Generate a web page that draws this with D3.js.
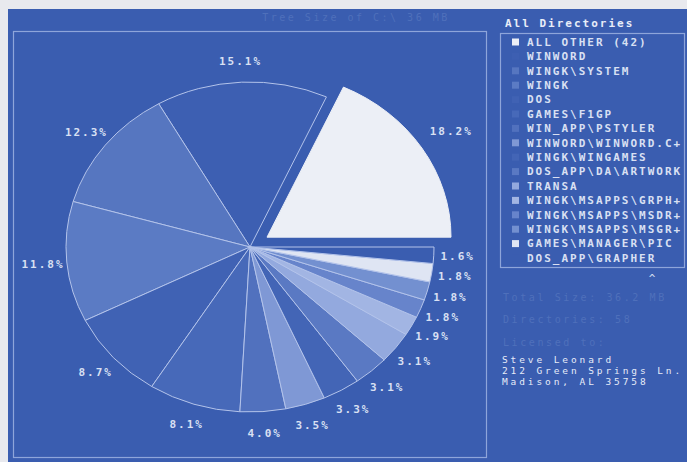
<!DOCTYPE html>
<html><head><meta charset="utf-8">
<script src="https://cdn.jsdelivr.net/npm/d3@7"></script>
<style>html,body{margin:0;padding:0;background:#e8e9ee;overflow:hidden}</style>
</head><body><svg id="c" width="687" height="462"></svg>
<script>
const categories = ["ALL OTHER (42)","WINWORD","WINGK\\SYSTEM","WINGK","DOS","GAMES\\F1GP","WIN_APP\\PSTYLER","WINWORD\\WINWORD.C+","WINGK\\WINGAMES","DOS_APP\\DA\\ARTWORK","TRANSA","WINGK\\MSAPPS\\GRPH+","WINGK\\MSAPPS\\MSDR+","WINGK\\MSAPPS\\MSGR+","GAMES\\MANAGER\\PIC","DOS_APP\\GRAPHER"];
const values = [18.2,15.1,12.3,11.8,8.7,8.1,4.0,3.5,3.3,3.1,3.1,1.9,1.8,1.8,1.8,1.6];
const sliceColors = ["#eceff6","#3d5fb2","#5676c0","#5b7bc4","#4062b4","#4769b9","#5171be","#7f98d5","#4365b6","#5a79c3","#93a9de","#a2b5e3","#6784cb","#7390d0","#dfe5f3","#3a5db0"];
const explodedSlice = [true,false,false,false,false,false,false,false,false,false,false,false,false,false,false,false];
const chartTitle = "Tree Size of C:\\ 36 MB";
const legendTitle = "All Directories";
const infoLines = ["Total Size: 36.2 MB","Directories: 58","Licensed to:"];
const addressLines = ["Steve Leonard","212 Green Springs Ln.","Madison, AL 35758"];

const W = 687, H = 462;
const svg = d3.select("#c");
const BG = "#3a5db0", LINE = "#8ea5da", TXT = "#d9e0f3", FAINT = "#4f70bb";
const mono = "'DejaVu Sans Mono', 'Liberation Mono', monospace";

// screen + page
svg.append("rect").attr("x",0).attr("y",0).attr("width",W).attr("height",H).attr("fill","#e8e9ee");
svg.append("rect").attr("x",8).attr("y",9).attr("width",W-8).attr("height",H-9).attr("fill",BG);

// chart panel
svg.append("rect").attr("x",13.5).attr("y",31.5).attr("width",473).attr("height",426)
  .attr("fill","none").attr("stroke",LINE).attr("stroke-width",1.2);
svg.append("text").attr("x",356).attr("y",17).attr("dy","0.35em").attr("text-anchor","middle")
  .attr("font-family",mono).attr("font-size",10).attr("letter-spacing",2.5)
  .attr("fill",FAINT).text(chartTitle);

// pie (elliptical, as on the EGA screen)
const cx = 250, cy = 247, rx = 184, ry = 165;
const pie = d3.pie().value(d => d).sort(null).startAngle(Math.PI/2).endAngle(Math.PI/2 - 2*Math.PI);
const arcs = pie(values);
const arc = d3.arc().innerRadius(0).outerRadius(ry);
const explode = 0.11, labelK = 1.13, explodedLabelK = 1.19;
const pieG = svg.append("g").attr("transform",`translate(${cx},${cy})`);
arcs.forEach((a,i) => {
  const mid = (a.startAngle + a.endAngle)/2;
  const off = explodedSlice[i] ? explode : 0;
  const dx = rx*off*Math.sin(mid), dy = -ry*off*Math.cos(mid);
  pieG.append("g").attr("transform",`translate(${dx},${dy}) scale(${rx/ry},1)`)
    .append("path").attr("d",arc(a)).attr("fill",sliceColors[i])
    .attr("stroke", explodedSlice[i] ? sliceColors[i] : "#b3c3ea").attr("stroke-width",1)
    .attr("vector-effect","non-scaling-stroke").attr("stroke-linejoin","round");
  const k = off + (explodedSlice[i] ? explodedLabelK : labelK);
  pieG.append("text")
    .attr("x", rx*k*Math.sin(mid)).attr("y", -ry*k*Math.cos(mid))
    .attr("dy","0.35em").attr("text-anchor","middle")
    .attr("font-family",mono).attr("font-weight","bold").attr("font-size",11).attr("letter-spacing",2)
    .attr("fill",TXT).text(values[i].toFixed(1) + "%");
});

// legend
svg.append("text").attr("x",505).attr("y",23).attr("dy","0.35em")
  .attr("font-family",mono).attr("font-weight","bold").attr("font-size",11).attr("letter-spacing",2)
  .attr("fill","#e8edf8").text(legendTitle);
svg.append("rect").attr("x",500.5).attr("y",33.5).attr("width",184).attr("height",234)
  .attr("fill","none").attr("stroke",LINE).attr("stroke-width",1.2);
const rowY = d3.scaleLinear().domain([0, categories.length-1]).range([42, 258]);
categories.forEach((c,i) => {
  svg.append("rect").attr("x",512).attr("y",rowY(i)-3.5).attr("width",7).attr("height",7).attr("fill",sliceColors[i]);
  svg.append("text").attr("x",527).attr("y",rowY(i)).attr("dy","0.35em")
    .attr("font-family",mono).attr("font-weight","bold").attr("font-size",11).attr("letter-spacing",2)
    .attr("fill",TXT).text(c);
});
svg.append("text").attr("x",652).attr("y",282).attr("text-anchor","middle")
  .attr("font-family",mono).attr("font-size",11).attr("fill",TXT).text("^");

// info & registration
infoLines.forEach((t,i) => {
  svg.append("text").attr("x",503).attr("y",297 + i*22.5).attr("dy","0.35em")
    .attr("font-family",mono).attr("font-size",10).attr("letter-spacing",2.6)
    .attr("fill",FAINT).text(t);
});
addressLines.forEach((t,i) => {
  svg.append("text").attr("x",502).attr("y",360 + i*11).attr("dy","0.35em")
    .attr("font-family",mono).attr("font-size",9.5).attr("letter-spacing",2.9)
    .attr("fill","#e6ebf8").text(t);
});
</script>
</body></html>
